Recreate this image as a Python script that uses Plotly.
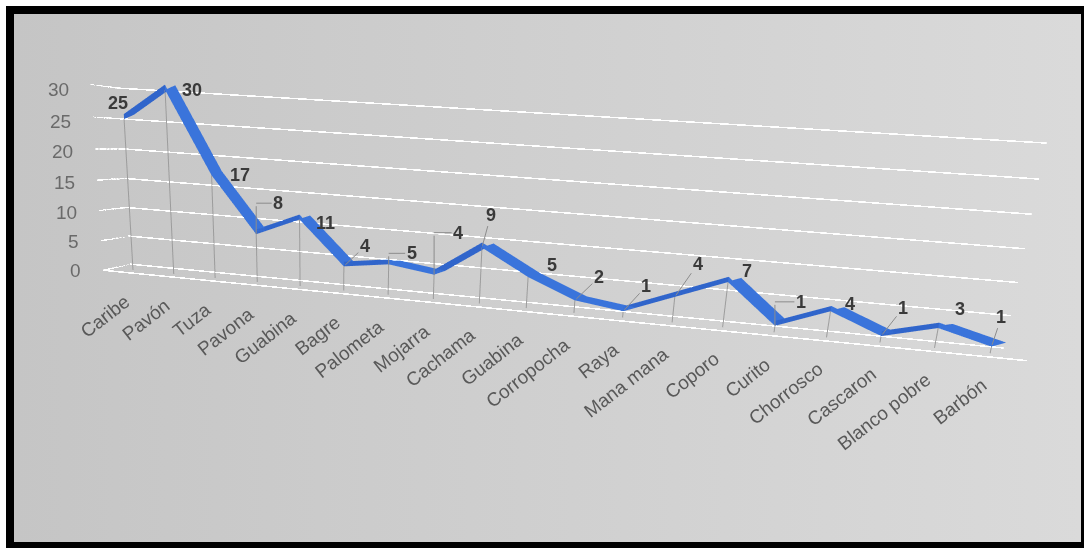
import plotly.graph_objects as go

# ---------------------------------------------------------------- data
categories = ["Caribe", "Pavón", "Tuza", "Pavona", "Guabina", "Bagre", "Palometa",
              "Mojarra", "Cachama", "Guabina", "Corropocha", "Raya", "Mana mana",
              "Coporo", "Curito", "Chorrosco", "Cascaron", "Blanco pobre", "Barbón"]
values = [25, 30, 17, 8, 11, 4, 5, 4, 9, 5, 2, 1, 4, 7, 1, 4, 1, 3, 1]
value_ticks = [0, 5, 10, 15, 20, 25, 30]

# ---------------------------------------------------------------- style
FONT = "Liberation Sans, Arial, sans-serif"
SERIES_DEPTH = 0.35            # position of the series on the 0..1 depth axis
BAND_DX, BAND_DZ = 0.24, 0.8   # ribbon thickness: shift (category units) and rise (value units)
LEADER = "#8c8c8c"
# pixel offset of every data label from its point and its leader style
label_style = [(-6, -16, None), (27, 0, None), (28, 0, None), (22, -31, "elbow"),
               (26, 3, None), (21, -20, "line"), (23, -11, "elbow"), (24, -42, "elbow"),
               (9, -33, "line"), (24, -12, None), (24, -23, "line"), (23, -25, "line"),
               (23, -33, "line"), (19, -11, None), (26, -24, "elbow"), (20, -7, None),
               (22, -28, "line"), (22, -19, None), (10, -30, "line")]

n = len(categories)
idx = list(range(n))

fig = go.Figure()

# frame and grey gradient backdrop (pixel-space cartesian layer under the 3D scene)
fig.add_shape(type="rect", xref="x", yref="y", x0=6, y0=6, x1=1084, y1=548,
              fillcolor="black", line_width=0, layer="below")
fig.add_trace(go.Scatter(
    x=[14, 1081, 1081, 14], y=[14, 14, 542, 542], fill="toself", mode="none",
    fillgradient=dict(type="horizontal", colorscale=[[0, "#c5c5c5"], [1, "#dadada"]]),
    hoverinfo="skip", showlegend=False))

# wall gridlines (left side wall + back wall)
gx, gy, gz = [], [], []
for t in value_ticks:
    gx += [-0.5, -0.5, n - 0.5, None]
    gy += [0, 1, 1, None]
    gz += [t, t, t, None]
fig.add_trace(go.Scatter3d(x=gx, y=gy, z=gz, mode="lines",
                           line=dict(color="rgba(250,250,250,0.6)", width=2),
                           hoverinfo="skip", showlegend=False))
# floor front edge
fig.add_trace(go.Scatter3d(x=[-0.5, n - 0.5], y=[0, 0], z=[0, 0], mode="lines",
                           line=dict(color="rgba(245,245,245,0.45)", width=2),
                           hoverinfo="skip", showlegend=False))

# drop lines from each point to the floor
dx, dy, dz = [], [], []
for i, v in zip(idx, values):
    dx += [i, i, None]
    dy += [SERIES_DEPTH, SERIES_DEPTH, None]
    dz += [0, v, None]
fig.add_trace(go.Scatter3d(x=dx, y=dy, z=dz, mode="lines",
                           line=dict(color="#9c9c9c", width=2),
                           hoverinfo="skip", showlegend=False))

# ribbon of the series: a raised band plus a raised-and-shifted band on the data edge
mx = idx + idx + [i + BAND_DX for i in idx]
my = [SERIES_DEPTH] * (3 * n)
mz = values + [v + BAND_DZ for v in values] * 2
ti, tj, tk, fc = [], [], [], []
for k in range(n - 1):
    c = "#3065cb" if values[k + 1] > values[k] else "#3a74db"
    for off in (n, 2 * n):
        ti += [k, off + k]
        tj += [off + k, off + k + 1]
        tk += [k + 1, k + 1]
        fc += [c, c]
fig.add_trace(go.Mesh3d(x=mx, y=my, z=mz, i=ti, j=tj, k=tk, facecolor=fc,
                        flatshading=True,
                        lighting=dict(ambient=1, diffuse=0, specular=0, roughness=1, fresnel=0),
                        hoverinfo="skip", showscale=False))

# text: value axis, categories, data labels
ann = []
for t in value_ticks:
    ann.append(dict(x=-0.5, y=0.5, z=t, text=str(t), showarrow=False,
                    xanchor="right", xshift=-34, yshift=-3,
                    font=dict(family=FONT, size=19, color="#6a6a6a")))
for i, name in zip(idx, categories):
    ann.append(dict(x=i, y=SERIES_DEPTH, z=0, text=name, showarrow=False, textangle=-38,
                    xanchor="right", yanchor="top", xshift=3, yshift=-18,
                    font=dict(family=FONT, size=19, color="#595959")))
label_font = dict(family=FONT, size=18, color="#3a3a3a", weight="bold")
for i, v in zip(idx, values):
    ox, oy, leader = label_style[i]
    if leader == "elbow":
        # vertical leg up from the point, then a horizontal leg to the label
        ann.append(dict(x=i, y=SERIES_DEPTH, z=v, text=" ", showarrow=True,
                        ax=0, ay=oy, arrowhead=0, arrowwidth=1, standoff=0,
                        arrowcolor=LEADER, font=dict(size=2)))
        ann.append(dict(x=i, y=SERIES_DEPTH, z=v, text=str(v), showarrow=True,
                        ax=ox, ay=0, yshift=-oy, arrowhead=0, arrowwidth=1, standoff=0,
                        arrowcolor=LEADER, font=label_font))
    else:
        ann.append(dict(x=i, y=SERIES_DEPTH, z=v, text=str(v), showarrow=True,
                        ax=ox, ay=oy, arrowhead=0, arrowwidth=1, standoff=2,
                        arrowcolor=LEADER if leader else "rgba(0,0,0,0)",
                        font=label_font))

fig.update_layout(
    width=1084, height=548,
    margin=dict(l=0, r=0, t=0, b=0),
    paper_bgcolor="white", plot_bgcolor="rgba(0,0,0,0)",
    showlegend=False,
    xaxis=dict(range=[0, 1084], visible=False, fixedrange=True),
    yaxis=dict(range=[548, 0], visible=False, fixedrange=True),
    scene=dict(
        domain=dict(x=[0, 1], y=[0, 1]),
        xaxis=dict(range=[-0.5, n - 0.5], visible=False),
        yaxis=dict(range=[0, 1], visible=False),
        zaxis=dict(range=[0, 31], visible=False),
        aspectmode="manual",
        aspectratio=dict(x=4.77, y=0.2, z=31 / 30),
        dragmode="orbit",
        camera=dict(eye=dict(x=0.5025, y=-3.3484, z=0.3419),
                    center=dict(x=0.0296, y=0.2924, z=-0.3924),
                    up=dict(x=-0.0892, y=0.1858, z=0.9785),
                    projection=dict(type="perspective")),
        annotations=ann,
    ),
)

fig.write_html("out.html")
